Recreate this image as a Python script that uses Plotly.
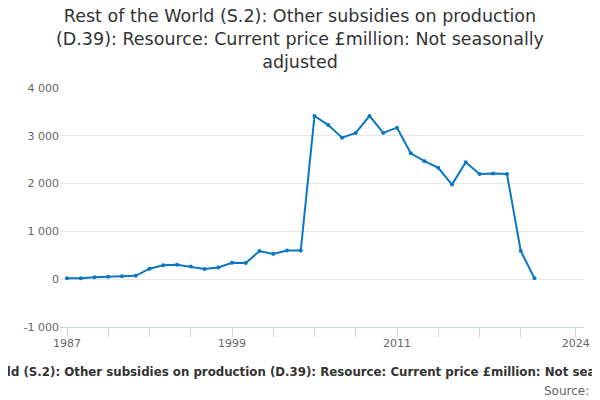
import plotly.graph_objects as go

years = list(range(1987, 2022))
values = [20, 20, 40, 50, 60, 70, 220, 290, 300, 265, 215, 245,
          345, 340, 590, 530, 600, 600, 3415, 3225, 2960, 3060, 3415, 3060,
          3170, 2635, 2470, 2330, 1980, 2445, 2200, 2210, 2200, 590, 20]

tick_years = list(range(1987, 2021, 3)) + [2024]
tick_labels = [str(y) if y in (1987, 1999, 2011, 2024) else "" for y in tick_years]

y_ticks = [-1000, 0, 1000, 2000, 3000, 4000]
y_labels = ["-1 000", "0", "1 000", "2 000", "3 000", "4 000"]

title = ("Rest of the World (S.2): Other subsidies on production<br>"
         "(D.39): Resource: Current price £million: Not seasonally<br>adjusted")
axis_title = ("Rest of the World (S.2): Other subsidies on production (D.39): "
              "Resource: Current price £million: Not seasonally adjusted")

# the page body adds an 8px offset, so the layout is shifted up-left by 8px
fig = go.Figure()
fig.add_trace(go.Scatter(
    x=years, y=values, mode="lines+markers",
    line=dict(color="#0a77c2", width=2),
    marker=dict(color="#0a77c2", size=4),
    hoverinfo="x+y",
))

fig.update_layout(
    width=600, height=400,
    paper_bgcolor="white", plot_bgcolor="white",
    font=dict(family="DejaVu Sans", color="#666666"),
    margin=dict(l=52, r=24, t=80, b=81),
    showlegend=False,
    xaxis=dict(range=[1986.49, 2024.6], tickvals=tick_years, ticktext=tick_labels,
               ticks="outside", ticklen=9, tickcolor="#ccd6eb", tickwidth=1,
               showline=True, linecolor="#ccd6eb", linewidth=1,
               showgrid=False, zeroline=False, ticklabelstandoff=-3,
               tickfont=dict(size=11, color="#666666")),
    yaxis=dict(range=[-1000, 4000], tickvals=y_ticks, ticktext=y_labels,
               showgrid=True, gridcolor="#e6e6e6", zeroline=False,
               ticks="", tickfont=dict(size=11, color="#666666")),
    annotations=[
        dict(text=title, xref="paper", yref="paper",
             x=(292 - 52) / 524, y=(319 - 31) / 239, xanchor="center", yanchor="middle",
             showarrow=False, font=dict(size=17.5, color="#333333")),
        dict(text="<b>" + axis_title + "</b>", xref="paper", yref="paper",
             x=(296 - 52) / 524, y=(319 - 364) / 239, xanchor="center", yanchor="middle",
             showarrow=False, font=dict(size=11.8, color="#333333")),
        dict(text="Source:", xref="paper", yref="paper",
             x=(583 - 52) / 524, y=(319 - 383) / 239, xanchor="right", yanchor="middle",
             showarrow=False, font=dict(size=12, color="#666666")),
    ],
)

fig.write_html("out.html")
